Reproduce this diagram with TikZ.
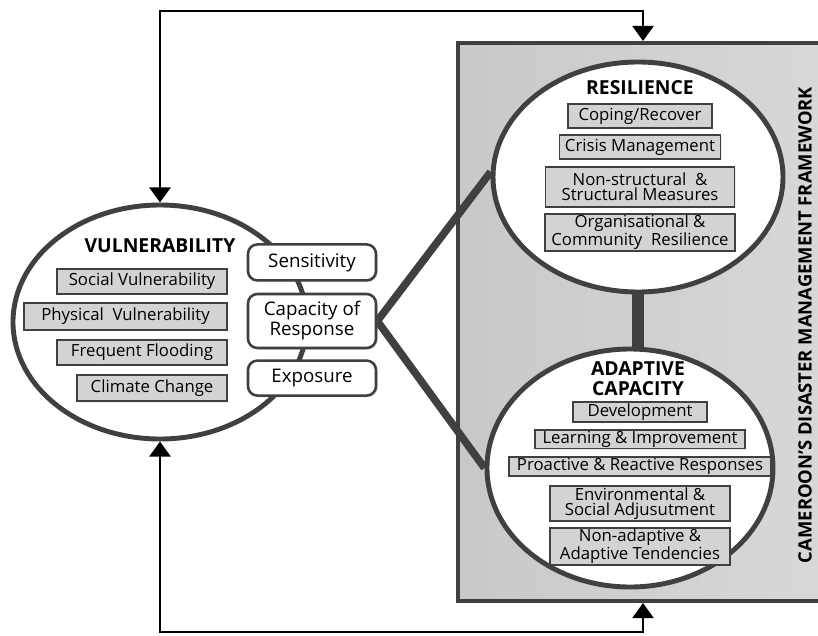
\documentclass[tikz,border=0pt]{standalone}
\usepackage{fontspec}
\setmainfont{Open Sans}
\usetikzlibrary{shapes.geometric, arrows.meta, calc, positioning, shadows, backgrounds}
\definecolor{edgegray}{HTML}{404040}
\definecolor{itemgray}{HTML}{D3D3D3}
\definecolor{frameleft}{HTML}{C8C8C8}
\definecolor{frameright}{HTML}{D8D8D8}
\tikzstyle{frame} = [rectangle, draw=edgegray, line width=3.4pt, left color=frameleft, right color=frameright]
\tikzstyle{zone} = [ellipse, draw=edgegray, line width=4.2pt, fill=white]
\tikzstyle{factor} = [rectangle, rounded corners=8pt, draw=edgegray, line width=2.2pt, fill=white, minimum width=3.84cm, align=center, font=\fontsize{16}{17}\selectfont, drop shadow={opacity=0.2, shadow xshift=1.5pt, shadow yshift=-1.5pt}]
\tikzstyle{item} = [rectangle, draw=edgegray, line width=1.6pt, fill=itemgray, inner sep=1pt, align=center, font=\fontsize{14.3}{13.3}\selectfont, drop shadow={opacity=0.15, shadow xshift=1.2pt, shadow yshift=-1.2pt}]
\tikzstyle{heading} = [align=center, font=\fontsize{16.5}{17}\selectfont\bfseries]
\tikzstyle{link} = [line width=6.5pt, draw=edgegray]
\tikzstyle{bar} = [line width=10pt, draw=edgegray]
\tikzstyle{arrow} = [line width=2.5pt, <->, >={Triangle[width=18pt,length=13pt]}]

\begin{document}
\begin{tikzpicture}[x=0.03cm, y=-0.03cm, node distance=0.2cm]
		\useasboundingbox (0,0) rectangle (818,635);
		\node (Vulnerability) [zone, minimum width=8.82cm, minimum height=7.02cm] at (160,322) {};
		\node (Resilience) [zone, minimum width=8.7cm, minimum height=6.9cm] at (638,177) {};
		\node (Adaptive) [zone, minimum width=8.58cm, minimum height=7.14cm] at (630,468) {};
		\node (Capacity) [factor, minimum height=1.62cm] at (312,321) {Capacity of\\Response};
		\node (Sensitivity) [factor, minimum height=1.08cm, above = 0.33cm of Capacity] {Sensitivity};
		\node (Exposure) [factor, minimum height=1.05cm, below = 0.3cm of Capacity] {Exposure};
		
		% frame and thick links sit under the ellipses
		\begin{pgfonlayer}{background}
		\node (Framework) [frame, minimum width=11.1cm, minimum height=16.74cm] at (643,322) {};
		\draw [link] (Capacity.east) -- (Resilience.178);
		\draw [link] (Capacity.east) -- (Adaptive.west);
		\draw [bar] (Resilience.center) -- (Resilience.center |- Adaptive.center);
		\end{pgfonlayer}
		\node (FrameworkTitle) [rotate=90, font=\fontsize{15.7}{16}\selectfont\bfseries] at (805,325) {CAMEROON'S DISASTER MANAGEMENT FRAMEWORK};
		
		\node (VulnTitle) [heading] at (160,246) {VULNERABILITY};
		\node (SocialVul) [item, minimum width=5.1cm, minimum height=0.75cm, anchor=north east] at (228,268) {Social Vulnerability};
		\node (PhysicalVul) [item, minimum width=6.09cm, minimum height=0.81cm, below = 0.21cm of SocialVul.south east, anchor=north east] {Physical\ \ Vulnerability};
		\node (Flooding) [item, minimum width=5.1cm, minimum height=0.75cm, below = 0.24cm of PhysicalVul.south east, anchor=north east] {Frequent Flooding};
		\node (Climate) [item, minimum width=4.5cm, minimum height=0.8cm, below = 0.24cm of Flooding.south east, anchor=north east] {Climate Change};
		
		\node (ResTitle) [heading] at (640,88) {RESILIENCE};
		\node (Coping) [item, minimum width=4.32cm, minimum height=0.72cm] at (640,116) {Coping/Recover};
		\node (Crisis) [item, minimum width=4.83cm, minimum height=0.72cm, below = 0.15cm of Coping] {Crisis Management};
		\node (NonStructural) [item, minimum width=5.67cm, minimum height=1.2cm, below = 0.18cm of Crisis] {Non-structural\ \ \&\\Structural Measures};
		\node (Organisational) [item, minimum width=5.7cm, minimum height=1.05cm, below = 0.15cm of NonStructural] {Organisational \&\\Community\ \ Resilience};
		
		\node (AdaptTitle) [heading] at (638,379) {ADAPTIVE\\CAPACITY};
		\node (Development) [item, minimum width=4.02cm, minimum height=0.6cm] at (640,412) {Development};
		\node (Learning) [item, minimum width=6.3cm, minimum height=0.54cm, below = 0.18cm of Development] {Learning \& Improvement};
		\node (Proactive) [item, minimum width=7.86cm, minimum height=0.54cm, below = 0.21cm of Learning] {Proactive \& Reactive Responses};
		\node (Environmental) [item, minimum width=5.4cm, minimum height=1.05cm, below = 0.24cm of Proactive] {Environmental \&\\Social Adjusutment};
		\node (NonAdaptive) [item, minimum width=5.4cm, minimum height=1.05cm, below = 0.15cm of Environmental] {Non-adaptive \&\\Adaptive Tendencies};
		
		\coordinate (TopLine) at (0,11);
		\coordinate (BottomLine) at (0,632);
		\draw [arrow] (Vulnerability.north) |- (TopLine -| Framework.north) -- (Framework.north);
		\draw [arrow] (Vulnerability.south) |- (BottomLine -| Framework.south) -- (Framework.south);
\end{tikzpicture}
\end{document}
